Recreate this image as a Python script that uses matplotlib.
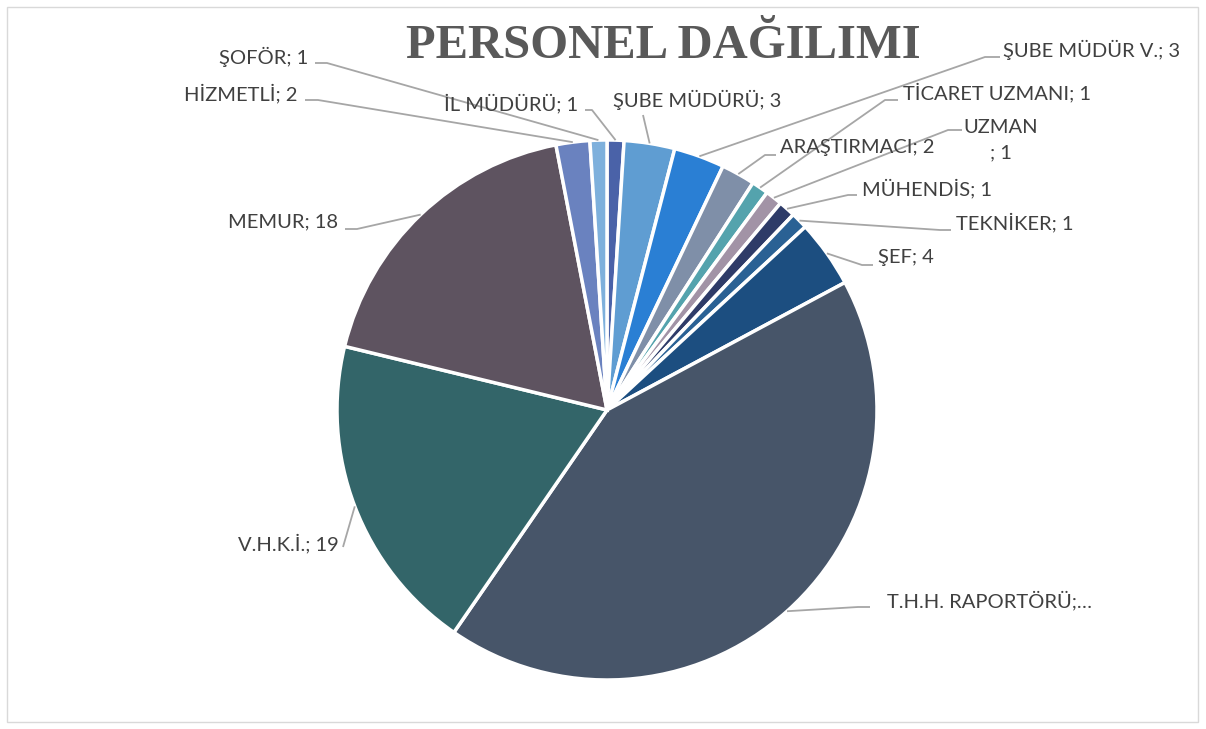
import matplotlib
matplotlib.use("Agg")
import matplotlib.pyplot as plt
from matplotlib.patches import Rectangle
import numpy as np

# data, clockwise from the top
categories = ["İL MÜDÜRÜ", "ŞUBE MÜDÜRÜ", "ŞUBE MÜDÜR V.", "ARAŞTIRMACI", "TİCARET UZMANI",
              "UZMAN", "MÜHENDİS", "TEKNİKER", "ŞEF", "T.H.H. RAPORTÖRÜ",
              "V.H.K.İ.", "MEMUR", "HİZMETLİ", "ŞOFÖR"]
values = [1, 3, 3, 2, 1, 1, 1, 1, 4, 42, 19, 18, 2, 1]
label_texts = ["İL MÜDÜRÜ; 1", "ŞUBE MÜDÜRÜ; 3", "ŞUBE MÜDÜR V.; 3", "ARAŞTIRMACI; 2",
               "TİCARET UZMANI; 1", "UZMAN\n; 1", "MÜHENDİS; 1", "TEKNİKER; 1", "ŞEF; 4",
               "T.H.H. RAPORTÖRÜ;…", "V.H.K.İ.; 19", "MEMUR; 18", "HİZMETLİ; 2", "ŞOFÖR; 1"]
colors = ["#4a62a8", "#5f9dd2", "#2a7fd4", "#7f8fa8", "#54a3ad", "#a293a6", "#2e3b68",
          "#2a6194", "#1c4e80", "#475569", "#336569", "#5e5360", "#6a82bf", "#7eb0dc"]

W, H = 1206, 729
CX, CY, R = 607, 410, 270


def px(x, y):
    return (x - CX) / R, (CY - y) / R


# label layout in pixels: text anchor x, y, ha, leader points (text side first)
layout = [
    (578, 103, "right", [(585, 110), (592, 110)]),
    (613, 100, "left", [(643, 115)]),
    (1003, 50, "left", [(1000, 57), (985, 57)]),
    (780, 148, "left", [(776, 155), (765, 155)]),
    (903, 92, "left", [(898, 100), (885, 100)]),
    (1001, 140, "center", [(962, 130), (948, 130)]),
    (862, 188, "left", [(857, 195), (848, 195)]),
    (956, 222, "left", [(951, 230), (940, 230)]),
    (878, 258, "left", [(873, 265), (862, 265)]),
    (887, 600, "left", [(870, 607), (858, 607)]),
    (339, 543, "right", [(343, 547)]),
    (338, 222, "right", [(345, 229), (357, 229)]),
    (298, 93, "right", [(305, 100), (318, 100)]),
    (308, 57, "right", [(315, 63), (327, 63)]),
]

fig = plt.figure(figsize=(W / 100, H / 100), dpi=100)
ax = fig.add_axes([0, 0, 1, 1])
wedges, _ = ax.pie(values, colors=colors, startangle=90, counterclock=False, radius=1,
                   wedgeprops=dict(edgecolor="white", linewidth=2.5))
ax.set_xlim(-CX / R, (W - CX) / R)
ax.set_ylim((CY - H) / R, CY / R)
ax.set_aspect("equal")
ax.axis("off")

for w, txt, (tx, ty, ha, pts) in zip(wedges, label_texts, layout):
    mid = np.deg2rad((w.theta1 + w.theta2) / 2)
    ex, ey = np.cos(mid), np.sin(mid)
    xs = [px(*p)[0] for p in pts] + [ex]
    ys = [px(*p)[1] for p in pts] + [ey]
    ax.plot(xs, ys, color="#a6a6a6", lw=1.3, solid_capstyle="butt")
    x, y = px(tx, ty)
    ax.text(x, y, txt, ha=ha, va="center", fontsize=14.5, color="#404040",
            family="Lato", linespacing=1.6)

fig.text(663 / W, 1 - 46 / H, "PERSONEL DAĞILIMI", ha="center", va="center",
         fontsize=35, fontweight="bold", family="Liberation Serif", color="#595959")

fig.patches.append(Rectangle((7 / W, 7 / H), (1198 - 7) / W, (722 - 7) / H,
                             transform=fig.transFigure, fill=False,
                             edgecolor="#d9d9d9", lw=1))

fig.savefig("out.png", dpi=100)
